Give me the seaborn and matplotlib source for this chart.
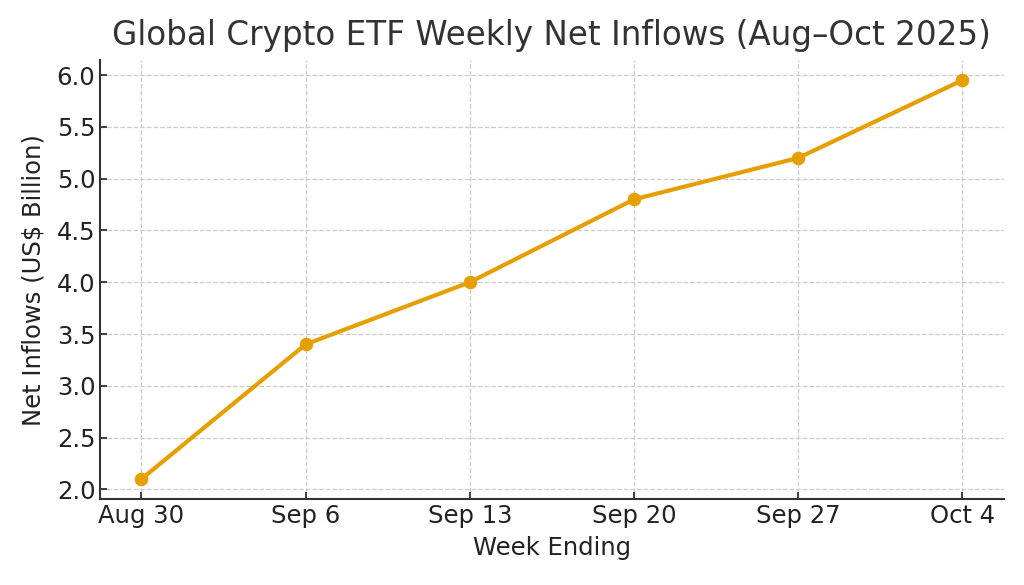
import matplotlib
matplotlib.use("Agg")
import matplotlib.pyplot as plt
import seaborn as sns
import pandas as pd

# weekly net inflows, US$ bn
weeks = ["Aug 30", "Sep 6", "Sep 13", "Sep 20", "Sep 27", "Oct 4"]
inflows = [2.1, 3.4, 4.0, 4.8, 5.2, 5.95]

df = pd.DataFrame({"week": weeks, "inflow": inflows})

sns.set_theme(style="ticks")
plt.rcParams["font.family"] = ["DejaVu Sans"]
plt.rcParams["text.color"] = "#333333"
plt.rcParams["axes.labelcolor"] = "#222222"
plt.rcParams["xtick.color"] = "#222222"
plt.rcParams["ytick.color"] = "#222222"

fig, ax = plt.subplots(figsize=(10.24, 5.85), dpi=100)
sns.lineplot(data=df, x="week", y="inflow", sort=False, ax=ax,
             color="#E69F00", linewidth=3, marker="o", markersize=9,
             markeredgecolor="#E69F00")

ax.set_title("Global Crypto ETF Weekly Net Inflows (Aug\u2013Oct 2025)", fontsize=23.5,
             color="#333333", pad=11)
ax.set_xlabel("Week Ending", fontsize=17.5, labelpad=6)
ax.set_ylabel("Net Inflows (US$ Billion)", fontsize=17.5, labelpad=8)
ax.tick_params(axis="both", labelsize=17.5, direction="in", length=5, width=1.2)
ax.grid(True, linestyle="--", color="#cccccc", linewidth=0.9)
ax.set_axisbelow(True)
ax.set_yticks([2.0, 2.5, 3.0, 3.5, 4.0, 4.5, 5.0, 5.5, 6.0])
ax.margins(x=0.05, y=0.05)
for s in ["top", "right"]:
    ax.spines[s].set_visible(False)
for s in ["left", "bottom"]:
    ax.spines[s].set_color("#333333")
    ax.spines[s].set_linewidth(1.5)

plt.subplots_adjust(left=0.098, right=0.98, top=0.897, bottom=0.147)
plt.savefig("out.png")
